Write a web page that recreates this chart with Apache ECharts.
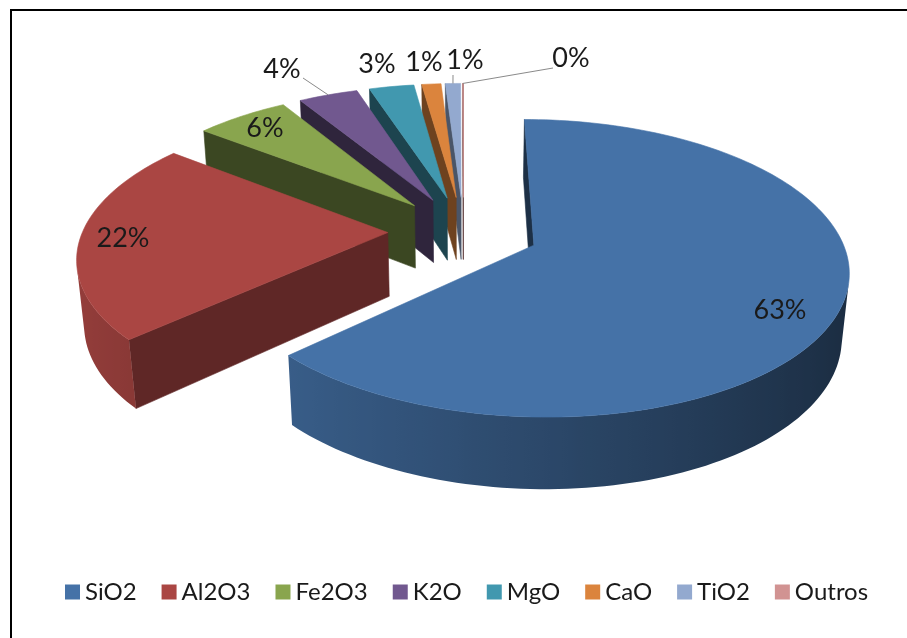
<!DOCTYPE html>
<html><head><meta charset="utf-8">
<style>html,body{margin:0;padding:0;background:#fff}#c{width:907px;height:638px}</style>
<script src="https://cdn.jsdelivr.net/npm/echarts@6/dist/echarts.min.js"></script>
</head><body><div id="c"></div>
<script>
var categories = ['SiO2','Al2O3','Fe2O3','K2O','MgO','CaO','TiO2','Outros'];
var values = [63.1, 22.4, 5.8, 3.7, 2.8, 1.2, 0.95, 0.05];
var colors = ['#4572A7','#AA4643','#89A54E','#71588F','#4198AF','#DB843D','#93A9CF','#D19392'];
var faceShades = [0.42, 0.56, 0.43, 0.42, 0.45, 0.5, 0.5, 0.5];
var labelAnchors = [[780,310],[123,238],[265,128],[282,69],[377,64],[424,62],[465,60],[571,58]];
var leaderEnds = [null,null,null,[303,78],null,null,[453,75],[553,68]];

var view = {cx:463.5, cy:231, scale:305, tilt:27.5*Math.PI/180, dist:5.8, explode:0.248, height:0.24};
var FONT = 'Lato, "Noto Sans", sans-serif';

function project(X,Y,Z){
  var s = 1/(1-(Y*Math.cos(view.tilt)+Z*Math.sin(view.tilt))/view.dist);
  return [view.cx+view.scale*X*s, view.cy+view.scale*(Y*Math.sin(view.tilt)-Z*Math.cos(view.tilt))*s];
}
function area(p){var a=0;for(var i=0;i<p.length;i++){var q=p[(i+1)%p.length];a+=p[i][0]*q[1]-q[0]*p[i][1];}return a;}
function shade(hex,f){
  var n=parseInt(hex.slice(1),16);
  return 'rgb('+[(n>>16)&255,(n>>8)&255,n&255].map(function(c){return Math.round(c*f);}).join(',')+')';
}
var total = values.reduce(function(a,b){return a+b;},0);
var starts = [], acc = 0;
values.forEach(function(v){starts.push(acc); acc+=v;});

function sliceGeom(i){
  var a=starts[i]/total*2*Math.PI, b=(starts[i]+values[i])/total*2*Math.PI, m=(a+b)/2;
  var ox=view.explode*Math.sin(m), oy=-view.explode*Math.cos(m);
  return {a:a,b:b,m:m,
    rim:function(t,z){return project(ox+Math.sin(t),oy-Math.cos(t),z);},
    apex:function(z){return project(ox,oy,z);}};
}
function wallShade(t){return Math.max(0.38,Math.min(0.92,0.63-0.25*Math.sin(t)));}
function renderSlice(i){
  var g=sliceGeom(i), h=view.height, kids=[], col=colors[i], face=shade(col,faceShades[i]);
  function poly(points,fill){kids.push({type:'polygon',shape:{points:points},style:{fill:fill,stroke:typeof fill==='string'?fill:null,lineWidth:0.6}});}
  var f1=[g.apex(0),g.rim(g.a,0),g.rim(g.a,-h),g.apex(-h)];
  var f2=[g.rim(g.b,0),g.apex(0),g.apex(-h),g.rim(g.b,-h)];
  if(area(f1)<0) poly(f1,face);
  if(area(f2)<0) poly(f2,face);
  var n=Math.max(2,Math.ceil((g.b-g.a)/(Math.PI/120))), top=[g.apex(0)], vis=[];
  for(var k=0;k<=n;k++){top.push(g.rim(g.a+(g.b-g.a)*k/n,0));}
  for(k=0;k<n;k++){
    var t1=g.a+(g.b-g.a)*k/n,t2=g.a+(g.b-g.a)*(k+1)/n;
    var q=[g.rim(t1,0),g.rim(t2,0),g.rim(t2,-h),g.rim(t1,-h)];
    if(area(q)<0){ if(!vis.length) vis.push(t1); vis.push(t2); }
  }
  if(vis.length){
    var up=vis.map(function(t){return g.rim(t,0);}), lo=vis.map(function(t){return g.rim(t,-h);}).reverse();
    var x0=up[0][0], x1=up[up.length-1][0], span=(x1-x0)||1;
    var stops=vis.map(function(t,j){return {offset:Math.max(0,Math.min(1,(up[j][0]-x0)/span)),color:shade(col,wallShade(t))};});
    poly(up.concat(lo),new echarts.graphic.LinearGradient(x0,0,x1,0,stops,true));
  }
  poly(top,col);
  if(leaderEnds[i]){
    var p=g.rim(g.m,0);
    kids.push({type:'polyline',shape:{points:[leaderEnds[i],p]},style:{fill:null,stroke:'#8a8a8a',lineWidth:1}});
  }
  kids.push({type:'text',style:{x:labelAnchors[i][0],y:labelAnchors[i][1],text:Math.round(values[i])+'%',
    font:'27px '+FONT,fill:'#1a1a1a',align:'center',verticalAlign:'middle'}});
  return {type:'group',children:kids};
}
var order = categories.map(function(_,i){return i;}).sort(function(p,q){
  return -Math.cos(sliceGeom(p).m)+Math.cos(sliceGeom(q).m);
});
var series = order.map(function(i){
  return {type:'custom',name:categories[i],coordinateSystem:'none',silent:true,
    itemStyle:{color:colors[i]},data:[{value:[values[i]]}],
    renderItem:function(){return renderSlice(i);}};
});
var chart = echarts.init(document.getElementById('c'),null,{renderer:'canvas'});
chart.setOption({
  animation:false,backgroundColor:'#fff',
  graphic:[
    {type:'line',z:-1,shape:{x1:10,y1:10,x2:907,y2:10},style:{stroke:'#000',lineWidth:2}},
    {type:'line',z:-1,shape:{x1:11,y1:9,x2:11,y2:638},style:{stroke:'#000',lineWidth:2}}
  ],
  legend:{data:categories,left:60,top:575,icon:'rect',itemWidth:15,itemHeight:15,itemGap:25,
    textStyle:{fontFamily:FONT,fontSize:24,color:'#1a1a1a'}},
  series:series
});
</script></body></html>
